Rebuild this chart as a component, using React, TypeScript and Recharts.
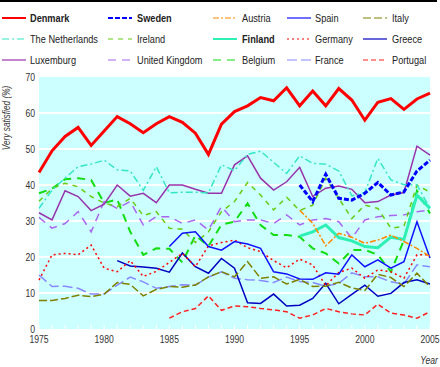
import { LineChart, Line, XAxis, YAxis, CartesianGrid } from 'recharts';

const years = [
  1975, 1976, 1977, 1978, 1979, 1980, 1981, 1982, 1983, 1984,
  1985, 1986, 1987, 1988, 1989, 1990, 1991, 1992, 1993, 1994,
  1995, 1996, 1997, 1998, 1999, 2000, 2001, 2002, 2003, 2004, 2005,
];
const yTicks = [0, 10, 20, 30, 40, 50, 60, 70];

const N = null;
const denmark = [43.5, 49.5, 53.5, 56, 51, 55, 59, 57, 54.5, 57, 59, 57.4, 54.4, 48.5, 56.9, 60.4, 62, 64.3, 63.4, 67, 62, 66.1, 62, 66.8, 63.6, 58, 63, 64, 61, 63.9, 65.5];
const sweden = [N, N, N, N, N, N, N, N, N, N, N, N, N, N, N, N, N, N, N, N, 40, 35.4, 43, 36.3, 35.8, 37.7, 40.7, 37.2, 38.1, 43.9, 46.9];
const austria = [N, N, N, N, N, N, N, N, N, N, N, N, N, N, N, N, N, N, N, N, 33, 29.4, 23.1, 26.6, 25.5, 23.8, 24.7, 26.1, 24.3, 22.4, 20.1];
const spain = [N, N, N, N, N, N, N, N, N, N, 22.9, 26.6, 27, 22.9, 21.9, 24.3, 23.6, 22.4, 15.9, 15.3, 13.9, 13.8, 15.6, 15.2, 20.6, 17.3, 19.2, 16.9, 18.7, 29.8, 19.7];
const italy = [7.9, 7.9, 8.5, 9.4, 9, 9.7, 12.9, 12.4, 9.2, 11, 11.8, 11.6, 12.2, 14.5, 15.9, 14.5, 18.7, 14.1, 14.5, 12.5, 13.8, 11.8, 11.9, 13, 11.4, 10.7, 15.2, 14.3, 11.8, 15.5, 11.7];
const netherlands = [33.5, 38.6, 41.9, 45.1, 45.8, 46.9, 44.2, 43.9, 38.5, 45.1, 37.8, 38, 38, 37.8, 45.6, 44, 48.5, 49.4, 46.3, 43.2, 48.1, 46, 45.8, 43.9, 37, 37.9, 47.4, 41.4, 40.1, 40, 33.5];
const ireland = [35.5, 39, 40.5, 39.5, 36.8, 35, 34, 36.3, 31.5, 32.6, 28, 27.7, 24, 27, 32.6, 35.4, 40.7, 37.2, 33.1, 36.6, 32.9, 34.4, 41.9, 36.3, 30.7, 34.4, 33.5, 28, 28.5, 40, 38];
const finland = [N, N, N, N, N, N, N, N, N, N, N, N, N, N, N, N, N, N, N, N, 25.8, 27, 28.9, 25.4, 24.5, 22.9, 22.6, 25.5, 24.9, 37.2, 33.5];
const germany = [13.6, 20.6, 21, 20.6, 23.3, 16.9, 15.9, 19, 14.6, 16, 18.5, 21, 17.3, 23.1, 24, 24.7, 22.6, 21.5, 19, 17, 19.4, 17.8, 12, 15.7, 16.9, 14.1, 16.4, 15.9, 14.1, 20.6, 20.6];
const greece = [N, N, N, N, N, N, 19, 17.5, 17.2, 16.9, 15.8, 21.1, 17.3, 15.5, 19.6, 16.9, 7.3, 7.1, 9.7, 6.4, 6.6, 8.5, 12.7, 7, 9.6, 12.2, 9.1, 9.9, 12.9, 13.7, 12.5];
const luxemburg = [32.3, 30.3, 38.4, 36.8, 32.9, 34.7, 40, 36.9, 37.7, 35.1, 40, 40, 38.8, 37.7, 37.7, 45.6, 48.1, 41.9, 38.6, 40.9, 44.9, 36.8, 39.1, 39.7, 38.8, 35.1, 35.4, 37.2, 37.9, 50.8, 48.3];
const uk = [31, 28, 29.3, 32.6, 27, 35.4, 33.5, 35.4, 28.9, 31.2, 31.2, 29.3, 30.3, 27.5, 34, 29.8, 30.3, 30.3, 29.3, 31.7, 28.9, 30.3, 30.7, 29.8, 25.2, 30.3, 31.2, 31.5, 31.7, 32.6, 33];
const belgium = [37.7, 39, 41.6, 41.9, 41.4, 35, 36, 27, 20.6, 22.4, 22.3, 18.5, 26, 23, 29, 29.8, 34.9, 28.9, 26.1, 26.1, 25.6, 22.4, 21, 18.2, 21.9, 22, 20.6, 15.9, 24.7, 38.4, 32.1];
const france = [15, 11.8, 11.9, 11.3, 9.7, 9.7, 12.2, 14.4, 13.1, 11.3, 11.8, 12.3, 12.2, 14.4, 15.9, 14.1, 13.7, 13.5, 12.9, 14.4, 13.2, 12.9, 11.9, 12.7, 15.6, 14.5, 14.5, 13.1, 12.5, 17.8, 17.3];
const portugal = [N, N, N, N, N, N, N, N, N, N, 3, 4.8, 5.7, 9.2, 5.2, 6.4, 6.2, 5.7, 5.3, 4.8, 3, 3.9, 5.7, 4.8, 4.2, 3.9, 6.9, 4.4, 3.9, 3, 4.8];

type Series = {
  key: string;
  name: string;
  values: (number | null)[];
  color: string;
  width: number;
  dash?: string;
  bold?: boolean;
};

// legend order, row by row
const series: Series[] = [
  { key: 'dk', name: 'Denmark', values: denmark, color: '#ff0000', width: 3, bold: true },
  { key: 'se', name: 'Sweden', values: sweden, color: '#0000ff', width: 3, dash: '5 2', bold: true },
  { key: 'at', name: 'Austria', values: austria, color: '#ff8800', width: 1.5, dash: '6 2 2 2' },
  { key: 'es', name: 'Spain', values: spain, color: '#1010ff', width: 1.5 },
  { key: 'it', name: 'Italy', values: italy, color: '#808000', width: 1.5, dash: '8 3' },
  { key: 'nl', name: 'The Netherlands', values: netherlands, color: '#33e6c4', width: 1.5, dash: '7 3 2 3' },
  { key: 'ie', name: 'Ireland', values: ireland, color: '#66cc11', width: 1.5, dash: '5 5' },
  { key: 'fi', name: 'Finland', values: finland, color: '#2ef0b4', width: 3, bold: true },
  { key: 'de', name: 'Germany', values: germany, color: '#ff0000', width: 1.5, dash: '2 3' },
  { key: 'gr', name: 'Greece', values: greece, color: '#0000c0', width: 1.5 },
  { key: 'lu', name: 'Luxemburg', values: luxemburg, color: '#9933aa', width: 1.5 },
  { key: 'uk', name: 'United Kingdom', values: uk, color: '#aa66ee', width: 1.5, dash: '8 6' },
  { key: 'be', name: 'Belgium', values: belgium, color: '#11dd11', width: 2, dash: '8 6' },
  { key: 'fr', name: 'France', values: france, color: '#8888ff', width: 1.5, dash: '10 4' },
  { key: 'pt', name: 'Portugal', values: portugal, color: '#ff2020', width: 1.5, dash: '5 3' },
];

const rows = years.map((year, i) => {
  const row: Record<string, number | null> = { year };
  series.forEach((s) => {
    row[s.key] = s.values[i];
  });
  return row;
});

// no narrow font installed, so squeeze Liberation Sans horizontally
const FONT = '"Liberation Sans", Arial, sans-serif';
const lineX = [2, 108, 213, 287, 363];
const labelX = [30, 137, 242, 315, 392];
const rowY = [18, 39, 60];

const XTick = ({ x, y, payload }: any) => {
  const v = payload.value;
  if (v % 5 !== 0) return null;
  return (
    <text
      transform={`translate(${x},${y}) scale(0.75,1)`}
      dy="0.71em"
      textAnchor="middle"
      fontSize={11.5}
      fill="#333"
      fontFamily={FONT}
    >
      {v}
    </text>
  );
};

const YTick = ({ x, y, payload }: any) => (
  <text
    transform={`translate(${x},${y}) scale(0.75,1)`}
    dy="0.355em"
    textAnchor="end"
    fontSize={11.5}
    fill="#333"
    fontFamily={FONT}
  >
    {payload.value}
  </text>
);

function Overlay() {
  return (
    <svg
      width={440}
      height={367}
      style={{ position: 'absolute', left: 0, top: 0, pointerEvents: 'none' }}
      fontFamily={FONT}
    >
      <rect x={0} y={0} width={437} height={2} fill="#000" />
      {series.map((s, i) => {
        const col = i % 5;
        const y = rowY[Math.floor(i / 5)];
        return (
          <g key={s.key}>
            <line
              x1={lineX[col]}
              x2={lineX[col] + 24}
              y1={y}
              y2={y}
              stroke={s.color}
              strokeWidth={s.width === 3 ? 2 : 1.2}
              strokeDasharray={s.dash}
            />
            <text
              transform={`translate(${labelX[col]},${y + 4}) scale(0.8,1)`}
              fontSize={11.5}
              fontWeight={s.bold ? 'bold' : 'normal'}
              fill="#222"
            >
              {s.name}
            </text>
          </g>
        );
      })}
      <text
        transform="translate(10,118) rotate(-90) scale(0.72,1)"
        textAnchor="middle"
        fontSize={11.5}
        fontStyle="italic"
        fill="#333"
      >
        Very satisfied (%)
      </text>
      <text
        transform="translate(438,364) scale(0.75,1)"
        textAnchor="end"
        fontSize={11.5}
        fontStyle="italic"
        fill="#333"
      >
        Year
      </text>
    </svg>
  );
}

export default function App() {
  return (
    <div style={{ position: 'relative', width: 440, height: 367, background: '#fff' }}>
      <style>{'body{margin:0}'}</style>
      <LineChart
        width={440}
        height={367}
        data={rows}
        margin={{ top: 77, right: 10, bottom: 0, left: 0 }}
      >
        <CartesianGrid
          vertical={false}
          stroke="#ffffff"
          strokeWidth={2}
          fill="#ccffff"
          horizontalValues={[10, 20, 30, 40, 50, 60]}
        />
        <XAxis
          dataKey="year"
          type="number"
          domain={[1975, 2005]}
          ticks={years}
          interval={0}
          axisLine={false}
          tickLine={{ stroke: '#ffffff' }}
          tickSize={-4}
          tickMargin={10}
          height={38}
          tick={<XTick />}
        />
        <YAxis
          type="number"
          domain={[0, 70]}
          ticks={yTicks}
          interval={0}
          axisLine={false}
          tickLine={false}
          tickSize={0}
          tickMargin={4}
          width={39}
          tick={<YTick />}
        />
        {[...series].reverse().map((s) => (
          <Line
            key={s.key}
            dataKey={s.key}
            type="linear"
            stroke={s.color}
            strokeWidth={s.width}
            strokeDasharray={s.dash}
            dot={false}
            activeDot={false}
            isAnimationActive={false}
          />
        ))}
      </LineChart>
      <Overlay />
    </div>
  );
}
